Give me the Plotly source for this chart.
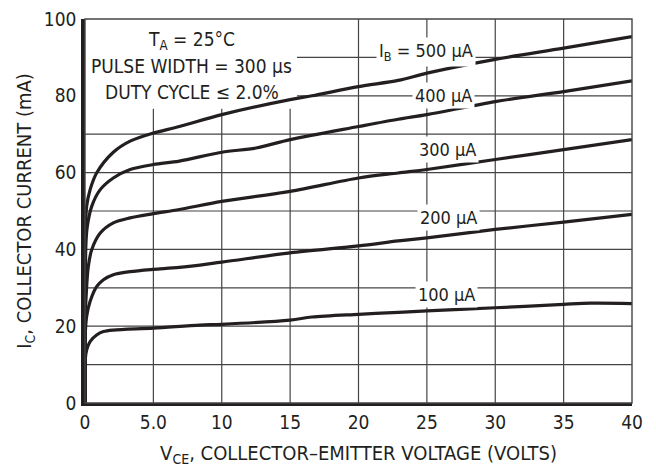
import plotly.graph_objects as go

# collector characteristic curves
v100 = [0, 0.02, 0.12, 0.37, 0.85, 1.35, 2.07, 5, 8.4, 10, 15, 16.6, 20, 22.9, 25, 30, 35, 37, 40]
i100 = [0, 11.5, 13.8, 16.0, 17.7, 18.6, 19.0, 19.5, 20.3, 20.5, 21.6, 22.4, 23.1, 23.6, 24.0, 24.8, 25.7, 26.0, 25.9]

v200 = [0, 0.02, 0.12, 0.37, 0.85, 1.35, 2.07, 3.3, 5, 6.9, 10, 15, 20, 22.9, 25, 30, 35, 40]
i200 = [0, 18, 22.5, 26.4, 30.3, 32.1, 33.4, 34.2, 34.8, 35.3, 36.7, 39.1, 40.9, 42.2, 43.0, 45.2, 47.1, 49.1]

v300 = [0, 0.02, 0.12, 0.24, 0.49, 1.1, 2.07, 3.3, 5, 6.9, 10, 15, 20, 22.9, 25, 30, 35, 40]
i300 = [0, 22, 30.3, 35.5, 39.9, 44.2, 46.9, 48.2, 49.3, 50.4, 52.5, 55.1, 58.6, 59.9, 60.8, 63.4, 66.0, 68.6]

v400 = [0, 0.02, 0.07, 0.17, 0.49, 1.1, 2.07, 3.3, 5, 6.9, 10, 12.5, 15, 20, 22.9, 25, 30, 35, 40]
i400 = [0, 30, 41.7, 46.0, 51.2, 55.5, 58.6, 60.8, 62.1, 63.0, 65.3, 66.4, 68.6, 72.0, 73.9, 75.1, 78.5, 81.1, 83.9]

v500 = [0, 0.02, 0.12, 0.37, 0.85, 2.07, 3.3, 5, 6.9, 10, 15, 16.6, 20, 22.9, 25, 30, 35, 40]
i500 = [0, 40, 51.2, 55.5, 59.9, 65.3, 68.2, 70.3, 72.0, 75.1, 79.0, 80.0, 82.4, 84.0, 85.9, 89.5, 92.4, 95.4]

curves = [(v100, i100), (v200, i200), (v300, i300), (v400, i400), (v500, i500)]

curve_labels = ["100 µA", "200 µA", "300 µA", "400 µA", "I<sub>B</sub> = 500 µA"]
label_x = [26.4, 26.6, 26.5, 26.2, 24.9]
label_y = [28.3, 48.3, 65.9, 80.2, 91.3]

note_lines = ["T<sub>A</sub> = 25°C", "PULSE WIDTH = 300 µs", "DUTY CYCLE ≤ 2.0%"]
note_y = [94.4, 87.7, 81.0]

x_ticks = [0, 5, 10, 15, 20, 25, 30, 35, 40]
x_ticktext = ["0", "5.0", "10", "15", "20", "25", "30", "35", "40"]
y_ticks = [0, 20, 40, 60, 80, 100]
x_grid = [5, 10, 15, 20, 25, 30, 35]
y_grid = [10, 20, 30, 40, 50, 60, 70, 80, 90]

FONT = "DejaVu Sans Condensed, sans-serif"
INK = "#231f20"
GRID = "#444444"

fig = go.Figure()
for v, i in curves:
    fig.add_trace(go.Scatter(x=v, y=i, mode="lines",
                             line=dict(color=INK, width=3.2, shape="spline", smoothing=0.9),
                             showlegend=False, hoverinfo="skip"))

# grid drawn as shapes so the note patch can sit on top of it
for gx in x_grid:
    fig.add_shape(type="line", x0=gx, x1=gx, y0=0, y1=100, xref="x", yref="y",
                  line=dict(color=GRID, width=1.2), layer="below")
for gy in y_grid:
    fig.add_shape(type="line", x0=0, x1=40, y0=gy, y1=gy, xref="x", yref="y",
                  line=dict(color=GRID, width=1.2), layer="below")

# white patch behind the test-condition note
fig.add_shape(type="rect", x0=0, x1=15.5, y0=76.6, y1=100, xref="x", yref="y",
              fillcolor="white", line_width=0, layer="below")
# thin frame on top / right
fig.add_shape(type="rect", x0=0, x1=1, y0=0, y1=1, xref="paper", yref="paper",
              line=dict(color=GRID, width=1.4), layer="above")

for txt, y in zip(note_lines, note_y):
    fig.add_annotation(x=7.8, y=y, text=txt, showarrow=False,
                       font=dict(family=FONT, size=19, color=INK))

for txt, x, y in zip(curve_labels, label_x, label_y):
    fig.add_annotation(x=x, y=y, text=txt, showarrow=False, bgcolor="white", borderpad=2,
                       font=dict(family=FONT, size=18, color=INK))

fig.update_xaxes(range=[0, 40], tickvals=x_ticks, ticktext=x_ticktext, automargin=False,
                 showgrid=False, zeroline=False, ticklabeloverflow="allow",
                 showline=True, linecolor=INK, linewidth=3, ticks="",
                 tickfont=dict(family=FONT, size=19, color=INK),
                 title=dict(text="V<sub>CE</sub>, COLLECTOR–EMITTER VOLTAGE (VOLTS)",
                            font=dict(family=FONT, size=20, color=INK), standoff=15))
fig.update_yaxes(range=[0, 100], tickvals=y_ticks, automargin=False,
                 showgrid=False, zeroline=False, ticklabeloverflow="allow",
                 showline=True, linecolor=INK, linewidth=3.5, ticks="",
                 ticklabelstandoff=1,
                 tickfont=dict(family=FONT, size=19, color=INK),
                 title=dict(text="I<sub>C</sub>, COLLECTOR CURRENT (mA)",
                            font=dict(family=FONT, size=20, color=INK), standoff=8))

# page body adds 8px, so the figure is a touch smaller than the window
fig.update_layout(width=648, height=459, margin=dict(l=77, r=24, t=11, b=64),
                  plot_bgcolor="white", paper_bgcolor="white")

fig.write_html("out.html")
